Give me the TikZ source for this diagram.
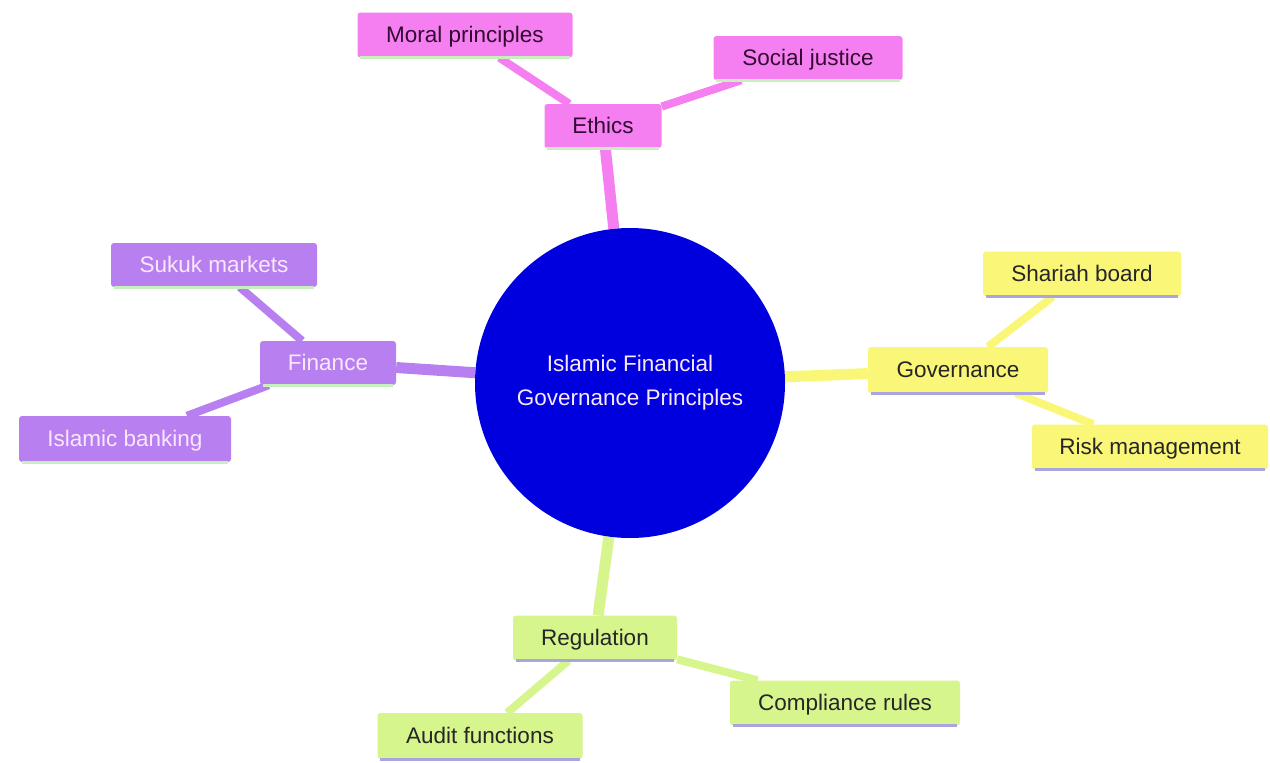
\documentclass[tikz,border=0pt]{standalone}
\usepackage{fontspec}
\setmainfont{Liberation Sans}
\usetikzlibrary{backgrounds}
\definecolor{pinkc}{RGB}{245,127,240}
\definecolor{purpc}{RGB}{183,127,240}
\definecolor{yelc}{RGB}{250,246,120}
\definecolor{grnc}{RGB}{214,245,140}
\definecolor{bluec}{RGB}{0,0,222}
\definecolor{ulgreen}{RGB}{200,240,190}
\definecolor{ullav}{RGB}{170,165,225}
\definecolor{darkpurp}{RGB}{50,10,50}
\definecolor{lighttext}{RGB}{250,232,250}
\tikzset{
  box/.style={rectangle, rounded corners=3pt, inner sep=0pt, font=\fontsize{22.5}{26}\selectfont, text height=20pt, text depth=4.5pt},
  pinkbox/.style={box, fill=pinkc, text=darkpurp},
  purpbox/.style={box, fill=purpc, text=lighttext},
  yelbox/.style={box, fill=yelc, text=black!85},
  grnbox/.style={box, fill=grnc, text=black!85},
  mainlink/.style={line width=11pt},
  sublink/.style={line width=8pt},
}
\newcommand{\uline}[2]{\draw[#2, line width=3pt] ([xshift=3pt]#1.south west) -- ([xshift=-3pt]#1.south east);}
\begin{document}
\begin{tikzpicture}[x=1pt,y=-1pt]
\useasboundingbox (0,0) rectangle (1270,763);
% center
\node[circle, fill=bluec, minimum size=310pt, inner sep=0pt, text=lighttext, align=center, font=\fontsize{22.5}{34}\selectfont] (c) at (630,383) {Islamic Financial\\Governance Principles};
% ethics
\node[pinkbox, minimum width=117pt, minimum height=44pt] (eth) at (603,126) {Ethics};
\node[pinkbox, minimum width=215pt, minimum height=45pt] (mor) at (465,35) {Moral principles};
\node[pinkbox, minimum width=189pt, minimum height=44pt] (soc) at (808,58) {Social justice};
% governance
\node[yelbox, minimum width=180pt, minimum height=46pt] (gov) at (958,370) {Governance};
\node[yelbox, minimum width=198pt, minimum height=45pt] (sha) at (1082,274) {Shariah board};
\node[yelbox, minimum width=236pt, minimum height=45pt] (risk) at (1150,447) {Risk management};
% finance
\node[purpbox, minimum width=136pt, minimum height=44pt] (fin) at (328,363) {Finance};
\node[purpbox, minimum width=206pt, minimum height=44pt] (suk) at (214,265) {Sukuk markets};
\node[purpbox, minimum width=212pt, minimum height=46pt] (isb) at (125,439) {Islamic banking};
% regulation
\node[grnbox, minimum width=164pt, minimum height=45pt] (reg) at (595,638) {Regulation};
\node[grnbox, minimum width=230pt, minimum height=45pt] (com) at (845,703) {Compliance rules};
\node[grnbox, minimum width=205pt, minimum height=46pt] (aud) at (480,736) {Audit functions};
% underlines
\uline{eth}{ulgreen}\uline{mor}{ulgreen}\uline{soc}{ulgreen}
\uline{fin}{ulgreen}\uline{suk}{ulgreen}\uline{isb}{ulgreen}
\uline{gov}{ullav}\uline{sha}{ullav}\uline{risk}{ullav}
\uline{reg}{ullav}\uline{com}{ullav}\uline{aud}{ullav}
\begin{pgfonlayer}{background}
\draw[mainlink, pinkc] (c) -- (eth);
\draw[sublink, pinkc] (eth) -- (mor);
\draw[sublink, pinkc] (eth) -- (soc);
\draw[mainlink, yelc] (c) -- (gov);
\draw[sublink, yelc] (gov) -- (sha);
\draw[sublink, yelc] (gov) -- (risk);
\draw[mainlink, purpc] (c) -- (fin);
\draw[sublink, purpc] (fin) -- (suk);
\draw[sublink, purpc] (fin) -- (isb);
\draw[mainlink, grnc] (c) -- (reg);
\draw[sublink, grnc] (reg) -- (com);
\draw[sublink, grnc] (reg) -- (aud);
\end{pgfonlayer}
\end{tikzpicture}
\end{document}
